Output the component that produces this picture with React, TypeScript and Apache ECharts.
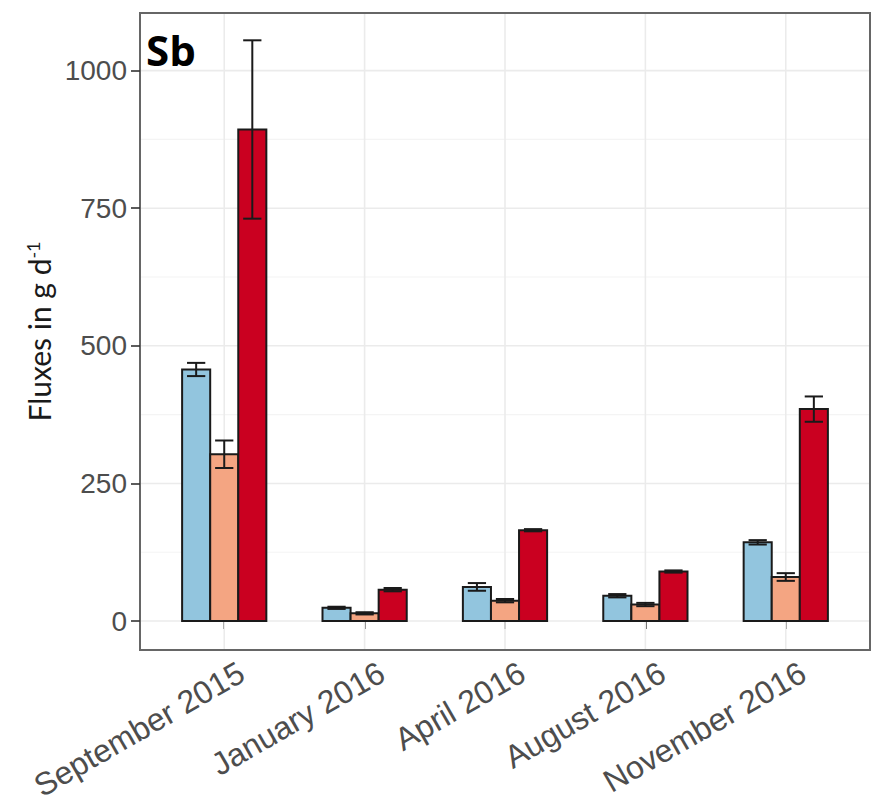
import React, { useEffect, useRef } from 'react';
import * as echarts from 'echarts';

const categories = ['September 2015', 'January 2016', 'April 2016', 'August 2016', 'November 2016'];
const seriesNames = ['Group 1', 'Group 2', 'Group 3'];
const blueValues = [457, 24, 62, 46, 143];
const blueErrors = [12, 2, 7, 3, 4];
const orangeValues = [303, 14, 37, 30, 80];
const orangeErrors = [25, 2, 3, 3, 7];
const redValues = [893, 57, 165, 90, 385];
const redErrors = [162, 3, 2, 2, 23];
const yTicks = [0, 250, 500, 750, 1000];
const yMinorTicks = [125, 375, 625, 875];
const xTicks = [1, 2, 3, 4, 5];

const groups = [
  { name: seriesNames[0], values: blueValues, errors: blueErrors, color: '#92C5DE', offset: -0.2 },
  { name: seriesNames[1], values: orangeValues, errors: orangeErrors, color: '#F4A582', offset: 0 },
  { name: seriesNames[2], values: redValues, errors: redErrors, color: '#CA0020', offset: 0.2 },
];

const BAR_HALF = 0.1;
const CAP_HALF = 0.065;

export default function App() {
  const ref = useRef<HTMLDivElement>(null);
  useEffect(() => {
    if (!ref.current) return;
    const chart = echarts.init(ref.current, null, { renderer: 'svg' });

    const hGridSeries = (vals: number[], color: string, width: number) => ({
      type: 'custom',
      silent: true,
      z: 1,
      data: vals.map((v) => [1, v]),
      renderItem: (params: any, api: any) => {
        const cs = params.coordSys;
        const p = api.coord([1, api.value(1)]);
        return {
          type: 'line',
          shape: { x1: cs.x + 1, y1: p[1], x2: cs.x + cs.width - 1, y2: p[1] },
          style: { stroke: color, lineWidth: width },
        };
      },
    });

    const vGridSeries = {
      type: 'custom',
      silent: true,
      z: 1,
      data: xTicks.map((v) => [v, 0]),
      renderItem: (params: any, api: any) => {
        const cs = params.coordSys;
        const p = api.coord([api.value(0), 0]);
        return {
          type: 'line',
          shape: { x1: p[0], y1: cs.y + 1, x2: p[0], y2: cs.y + cs.height - 1 },
          style: { stroke: '#EBEBEB', lineWidth: 1.6 },
        };
      },
    };

    const barSeries = groups.map((g) => ({
      type: 'custom',
      name: g.name,
      z: 3,
      data: g.values.map((v, i) => [i + 1, v]),
      renderItem: (params: any, api: any) => {
        const x = api.value(0) + g.offset;
        const v = api.value(1);
        const p0 = api.coord([x - BAR_HALF, v]);
        const p1 = api.coord([x + BAR_HALF, 0]);
        return {
          type: 'rect',
          shape: { x: p0[0], y: p0[1], width: p1[0] - p0[0], height: p1[1] - p0[1] },
          style: { fill: g.color, stroke: '#1a1a1a', lineWidth: 2 },
        };
      },
    }));

    const errorSeries = groups.map((g) => ({
      type: 'custom',
      name: g.name + ' error',
      z: 4,
      data: g.values.map((v, i) => [i + 1, v, g.errors[i]]),
      renderItem: (params: any, api: any) => {
        const x = api.value(0) + g.offset;
        const v = api.value(1);
        const e = api.value(2);
        const top = api.coord([x, v + e]);
        const bot = api.coord([x, v - e]);
        const l = api.coord([x - CAP_HALF, 0])[0];
        const r = api.coord([x + CAP_HALF, 0])[0];
        const style = { stroke: '#1a1a1a', lineWidth: 2 };
        return {
          type: 'group',
          children: [
            { type: 'line', shape: { x1: top[0], y1: top[1], x2: bot[0], y2: bot[1] }, style },
            { type: 'line', shape: { x1: l, y1: top[1], x2: r, y2: top[1] }, style },
            { type: 'line', shape: { x1: l, y1: bot[1], x2: r, y2: bot[1] }, style },
          ],
        };
      },
    }));

    chart.setOption({
      animation: false,
      backgroundColor: '#ffffff',
      grid: {
        left: 140,
        right: 1,
        top: 13,
        bottom: 155,
        show: true,
        borderColor: '#666666',
        borderWidth: 2,
        backgroundColor: 'transparent',
      },
      xAxis: {
        type: 'value',
        min: 0.4,
        max: 5.6,
        splitLine: { show: false },
        axisLine: { show: false },
        axisTick: {
          show: true,
          customValues: xTicks,
          length: 8,
          lineStyle: { color: '#333', width: 1.6 },
        },
        axisLabel: {
          customValues: xTicks,
          formatter: (v: number) => categories[Math.round(v) - 1],
          rotate: 30,
          fontSize: 32,
          fontFamily: '"Liberation Sans", Arial, sans-serif',
          color: '#4d4d4d',
          margin: 30,
          padding: [0, -20, 0, 0],
        },
      },
      yAxis: {
        type: 'value',
        min: -52.6,
        max: 1104.6,
        splitLine: { show: false },
        axisLine: { show: false },
        axisTick: {
          show: true,
          customValues: yTicks,
          length: 9,
          lineStyle: { color: '#333', width: 1.6 },
        },
        axisLabel: {
          customValues: yTicks,
          formatter: (v: number) => String(v),
          fontSize: 28,
          fontFamily: '"Liberation Sans", Arial, sans-serif',
          color: '#4d4d4d',
          margin: 13,
        },
        name: 'Fluxes in g d{sup|-1}',
        nameLocation: 'middle',
        nameRotate: 90,
        nameGap: 86,
        nameTextStyle: {
          fontFamily: 'Lato, "Open Sans", sans-serif',
          fontSize: 30,
          color: '#1a1a1a',
          rich: {
            sup: {
              fontFamily: 'Lato, "Open Sans", sans-serif',
              fontSize: 18,
              color: '#1a1a1a',
              verticalAlign: 'top',
            },
          },
        },
      },
      graphic: [
        {
          type: 'text',
          left: 146,
          top: 28,
          z: 10,
          style: {
            text: 'Sb',
            font: 'bold 42px "Open Sans", sans-serif',
            fill: '#000',
          },
        },
      ],
      series: [
        hGridSeries(yMinorTicks, '#F4F4F4', 1.2),
        hGridSeries(yTicks, '#EBEBEB', 1.6),
        vGridSeries,
        ...barSeries,
        ...errorSeries,
      ],
    });
    return () => chart.dispose();
  }, []);
  return <div ref={ref} style={{ width: 871, height: 805, position: 'absolute', left: 0, top: 0 }} />;
}
